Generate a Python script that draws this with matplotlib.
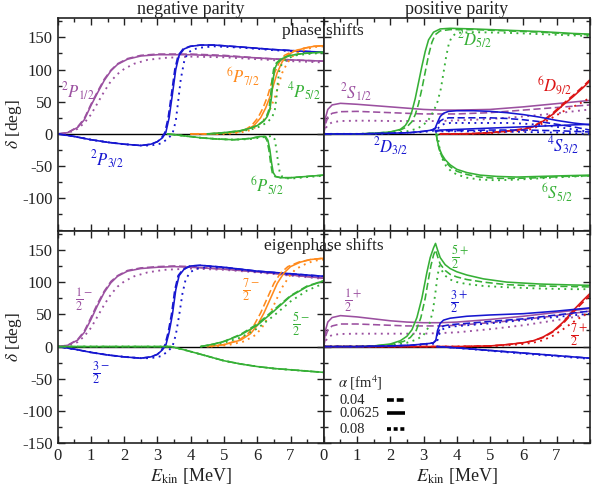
import matplotlib
matplotlib.use("Agg")
import matplotlib.pyplot as plt
from matplotlib.ticker import MultipleLocator

plt.rcParams['font.family'] = 'serif'
plt.rcParams['font.serif'] = ['Liberation Serif', 'DejaVu Serif']
plt.rcParams['mathtext.fontset'] = 'stix'
plt.rcParams['axes.unicode_minus'] = False

PURPLE = '#9b50a0'
BLUE = '#1616d0'
ORANGE = '#ff8a1c'
GREEN = '#36b036'
RED = '#dc1414'

# ---------------- phase shifts, negative parity ----------------
p12_E = [0, 0.3, 0.6, 0.8, 1.0, 1.2, 1.4, 1.6, 1.8, 2.1, 2.5, 3.0, 4.0, 5.0, 6.0, 7.0, 8.0]
p12_solid = [0, 2, 10, 22, 44, 64, 83, 98, 108, 116, 121, 123, 123, 121, 118, 115, 113]
p12_dash = [0, 2, 11, 24, 46, 66, 85, 99, 109, 117, 122, 124, 124, 122, 118, 115, 113]
p12_dot_E = [0, 0.3, 0.6, 0.8, 1.0, 1.2, 1.4, 1.6, 1.8, 2.0, 2.3, 2.7, 3.2, 4.0, 5.0, 6.0, 7.0, 8.0]
p12_dot = [0, 1, 8, 17, 30, 48, 66, 82, 93, 101, 109, 115, 118, 120, 119, 116, 113, 111]

p32_E = [0, 0.5, 1.0, 1.5, 2.0, 2.5, 2.8, 3.0, 3.15, 3.25, 3.35, 3.45, 3.55, 3.65, 3.8, 4.0, 4.3, 4.7, 5.5, 6.5, 7.5, 8.0]
p32_dash_E = [0, 0.5, 1.0, 1.5, 2.0, 2.5, 2.8, 3.0, 3.12, 3.22, 3.32, 3.42, 3.52, 3.62, 3.77, 3.97, 4.3, 4.7, 5.5, 6.5, 7.5, 8.0]
p32_solid = [0, -4, -9, -13, -16, -18, -16, -12, -6, 2, 25, 62, 100, 122, 132, 136, 138, 138, 135, 131, 128, 127]
p32_dot_E = [0, 0.5, 1.0, 1.5, 2.0, 2.5, 2.8, 3.1, 3.3, 3.45, 3.55, 3.62, 3.7, 3.8, 3.9, 4.05, 4.3, 4.7, 5.5, 6.5, 7.5, 8.0]
p32_dot = [0, -4, -9, -13, -16, -18, -18, -15, -8, 0, 20, 50, 85, 112, 125, 131, 134, 136, 134, 130, 127, 126]

p72_E = [4.0, 4.5, 5.0, 5.4, 5.7, 5.9, 6.1, 6.25, 6.4, 6.5, 6.6, 6.75, 6.9, 7.1, 7.4, 7.7, 8.0]
p72_dash_E = [4.0, 4.5, 5.0, 5.4, 5.65, 5.83, 6.02, 6.17, 6.32, 6.42, 6.52, 6.67, 6.82, 7.05, 7.4, 7.7, 8.0]
p72_solid = [0, 0, 1, 3, 7, 13, 25, 40, 60, 78, 95, 112, 122, 128, 133, 136, 137]
p72_dot_E = [4.0, 4.5, 5.0, 5.5, 5.8, 6.0, 6.25, 6.4, 6.55, 6.65, 6.75, 6.9, 7.05, 7.25, 7.5, 7.75, 8.0]
p72_dot = [0, 0, 0, 2, 6, 12, 25, 40, 60, 78, 95, 110, 120, 127, 132, 135, 136]

p52a_E = [4.5, 5.0, 5.5, 5.8, 6.0, 6.2, 6.3, 6.38, 6.43, 6.47, 6.52, 6.6, 6.75, 7.0, 7.4, 8.0]
p52a_dash_E = [4.5, 5.0, 5.5, 5.8, 6.0, 6.18, 6.28, 6.35, 6.4, 6.44, 6.49, 6.57, 6.72, 6.97, 7.4, 8.0]
p52a_solid = [0, 2, 5, 9, 13, 20, 27, 38, 58, 82, 100, 110, 117, 122, 125, 127]
p52a_dot_E = [4.5, 5.0, 5.5, 5.9, 6.1, 6.3, 6.45, 6.53, 6.58, 6.62, 6.67, 6.75, 6.9, 7.15, 7.5, 8.0]
p52a_dot = [0, 1, 4, 8, 12, 18, 26, 38, 58, 82, 100, 110, 117, 122, 124, 126]

p52b_E = [3.3, 3.8, 4.3, 4.8, 5.3, 5.8, 6.1, 6.25, 6.32, 6.38, 6.43, 6.48, 6.55, 6.7, 7.0, 7.5, 8.0]
p52b_dash_E = [3.3, 3.8, 4.3, 4.8, 5.3, 5.8, 6.07, 6.22, 6.29, 6.35, 6.4, 6.45, 6.52, 6.7, 7.0, 7.5, 8.0]
p52b_solid = [0, -3, -6, -8, -9, -7, -4, -4, -10, -25, -45, -60, -66, -68, -68, -66, -64]
p52b_dot_E = [3.3, 3.8, 4.3, 4.8, 5.3, 5.8, 6.2, 6.45, 6.52, 6.57, 6.62, 6.67, 6.74, 6.9, 7.1, 7.5, 8.0]
p52b_dot = [0, -3, -6, -8, -9, -8, -5, -3, -8, -22, -42, -58, -66, -69, -69, -67, -65]

# ---------------- phase shifts, positive parity ----------------
s12_E = [0, 0.05, 0.12, 0.25, 0.5, 1.0, 1.5, 2.0, 2.5, 3.0, 3.5, 4.0, 5.0, 6.0, 7.0, 8.0]
s12_solid = [0, 25, 38, 45, 47.5, 46, 44, 42, 40, 38, 37, 37, 38, 42, 47, 52]
s12_dash = [0, 15, 26, 32, 34.5, 35, 34, 33, 32, 31, 31, 31, 33, 37, 41, 45]
s12_dot = [0, 8, 14, 18, 20, 20.5, 20.5, 20, 20, 20, 20, 21, 23, 27, 32, 38]

d52_E = [0, 1.0, 1.5, 2.0, 2.3, 2.45, 2.55, 2.65, 2.75, 2.85, 2.95, 3.05, 3.15, 3.3, 3.5, 3.8, 4.5, 5.5, 6.5, 7.5, 8.0]
d52_solid = [0, 0, 1, 3, 7, 13, 21, 35, 55, 80, 105, 128, 146, 158, 163, 164, 163, 161, 159, 156, 155]
d52_dash_E = [0, 1.0, 1.5, 2.0, 2.3, 2.5, 2.65, 2.75, 2.85, 2.95, 3.05, 3.15, 3.25, 3.35, 3.5, 3.8, 4.5, 5.5, 6.5, 7.5, 8.0]
d52_dash = [0, 0, 1, 3, 6, 11, 19, 30, 47, 70, 96, 122, 142, 154, 160, 162, 162, 160, 158, 155, 154]
d52_dot_E = [0, 1.0, 1.5, 2.0, 2.5, 2.8, 3.0, 3.15, 3.3, 3.42, 3.52, 3.6, 3.68, 3.76, 3.85, 4.0, 4.5, 5.5, 6.5, 7.5, 8.0]
d52_dot = [0, 0, 0, 1, 4, 8, 14, 22, 35, 50, 70, 95, 120, 140, 151, 157, 158, 157, 155, 153, 152]

d92_E = [3.5, 4.0, 4.5, 5.0, 5.5, 6.0, 6.3, 6.6, 6.9, 7.2, 7.5, 7.8, 8.0]
d92_solid = [0, 0, 0.5, 2, 4, 7, 11, 20, 31, 45, 58, 72, 82]
d92_dash = [0, 0, 0.5, 2, 4.5, 8, 12, 21, 33, 47, 60, 74, 84]
d92_dot = [0, 0, 0.3, 1, 3, 5, 8, 17, 26, 35, 42, 50, 56]

d32_E = [0, 1.0, 2.0, 2.6, 3.0, 3.25, 3.35, 3.42, 3.5, 3.6, 3.75, 4.0, 4.5, 5.0, 5.5, 6.0, 6.5, 7.0, 7.5, 8.0]
d32_solid = [0, 0, 1, 2, 4, 6, 9, 18, 27, 32, 35, 36, 36, 35, 33, 30, 26, 21, 17, 14]
d32_dash = [0, 0, 1, 2, 4, 6, 8, 14, 20, 23, 25, 25, 25, 25, 24, 22, 19, 15, 11, 6]
d32_dot_E = [0, 1.0, 2.0, 2.6, 3.0, 3.3, 3.4, 3.48, 3.55, 3.65, 3.8, 4.0, 4.5, 5.0, 5.5, 6.0, 6.5, 7.0, 7.5, 8.0]
d32_dot = [0, 0, 1, 2, 3, 5, 7, 11, 14, 16, 17, 17, 17, 17, 17, 16, 14, 11, 7, 3]

s32_E = [3.35, 3.5, 4.0, 5.0, 6.0, 7.0, 8.0]
s32_solid = [5, 6, 7, 9, 11, 13, 15]
s32_dash = [4, 5, 5, 6, 6, 5, 3]
s32_dot = [3, 4, 4, 4, 3, 2, 0]

s52_E = [3.38, 3.42, 3.47, 3.55, 3.65, 3.8, 4.0, 4.3, 4.7, 5.2, 5.8, 6.5, 7.2, 8.0]
s52_solid = [0, -12, -22, -32, -40, -48, -55, -60, -64, -66, -67, -66, -65, -64]
s52_dash = [0, -13, -24, -35, -43, -51, -58, -63, -67, -69, -69, -68, -66, -65]
s52_dot_E = [3.42, 3.46, 3.5, 3.58, 3.68, 3.83, 4.0, 4.3, 4.7, 5.2, 5.8, 6.5, 7.2, 8.0]
s52_dot = [0, -15, -28, -40, -50, -58, -63, -68, -71, -72, -71, -69, -67, -65]

# ---------------- eigenphases, negative parity ----------------
e12m_E = [0, 0.3, 0.6, 0.8, 1.0, 1.2, 1.4, 1.6, 1.8, 2.1, 2.5, 3.0, 3.5, 4.0, 5.0, 6.0, 7.0, 8.0]
e12m_solid = [0, 2, 10, 22, 42, 64, 84, 99, 109, 117, 121, 123, 124, 123, 120, 116, 111, 106]
e12m_dash = [0, 2, 11, 24, 45, 67, 86, 101, 110, 118, 122, 124, 125, 124, 120, 116, 111, 106]
e12m_dot_E = [0, 0.3, 0.6, 0.8, 1.0, 1.2, 1.4, 1.6, 1.8, 2.0, 2.3, 2.7, 3.2, 4.0, 5.0, 6.0, 7.0, 8.0]
e12m_dot = [0, 1, 7, 16, 29, 47, 65, 81, 93, 101, 109, 115, 119, 121, 119, 115, 110, 105]

e32m_E = [0, 0.5, 1.0, 1.5, 2.0, 2.5, 2.8, 3.0, 3.15, 3.25, 3.35, 3.45, 3.55, 3.65, 3.8, 4.0, 4.3, 5.0, 6.0, 7.0, 8.0]
e32m_dash_E = [0, 0.5, 1.0, 1.5, 2.0, 2.5, 2.8, 3.0, 3.12, 3.22, 3.32, 3.42, 3.52, 3.62, 3.77, 3.97, 4.3, 5.0, 6.0, 7.0, 8.0]
e32m_solid = [0, -4, -9, -13, -16, -18, -16, -12, -5, 2, 22, 50, 88, 110, 120, 125, 126, 123, 117, 113, 109]
e32m_dot_E = [0, 0.5, 1.0, 1.5, 2.0, 2.5, 2.8, 3.1, 3.3, 3.45, 3.55, 3.65, 3.75, 3.85, 4.0, 4.2, 4.5, 5.0, 6.0, 7.0, 8.0]
e32m_dot = [0, -4, -9, -13, -16, -18, -18, -15, -8, 0, 18, 48, 82, 105, 116, 121, 123, 122, 116, 112, 108]

e72m_E = [4.5, 5.0, 5.5, 5.8, 6.0, 6.2, 6.4, 6.6, 6.8, 7.0, 7.3, 7.6, 8.0]
e72m_dash_E = [4.5, 5.0, 5.45, 5.72, 5.9, 6.1, 6.3, 6.5, 6.7, 6.92, 7.25, 7.6, 8.0]
e72m_solid = [0, 3, 10, 20, 33, 52, 75, 98, 114, 124, 131, 135, 137]
e72m_dot_E = [4.6, 5.1, 5.6, 5.95, 6.15, 6.35, 6.55, 6.75, 6.95, 7.15, 7.45, 7.7, 8.0]
e72m_dot = [0, 2, 8, 18, 30, 48, 70, 92, 108, 120, 128, 133, 135]

e52m_E = [4.3, 4.7, 5.0, 5.5, 6.0, 6.5, 7.0, 7.5, 8.0]
e52m_solid = [0, 4, 8, 18, 33, 55, 78, 93, 102]
e52m_dash = [0, 4, 8, 19, 35, 57, 79, 94, 102]
e52m_dot = [0, 3, 6, 14, 28, 48, 70, 87, 98]

e52m2_E = [0, 1, 2, 3, 3.4, 3.8, 4.3, 5.0, 5.5, 6.0, 6.5, 7.0, 7.5, 8.0]
e52m2_solid = [0, 0, 0, 0, 0, -5, -12, -22, -27, -31, -34, -36, -38, -40]

# ---------------- eigenphases, positive parity ----------------
e12p_E = [0, 0.05, 0.12, 0.25, 0.5, 1.0, 1.5, 2.0, 2.5, 3.0, 3.5, 4.0, 5.0, 6.0, 7.0, 8.0]
e12p_solid = [0, 25, 38, 45, 48, 46, 43, 40, 38, 37, 37, 38, 42, 47, 53, 59]
e12p_dash = [0, 15, 26, 32, 35, 35, 34, 33, 32, 32, 32, 33, 37, 42, 48, 55]
e12p_dot = [0, 8, 14, 18, 19.5, 20, 20, 20, 20, 20, 21, 22, 27, 33, 41, 50]

e52p_E = [0, 1.0, 1.5, 2.0, 2.3, 2.5, 2.65, 2.8, 2.95, 3.1, 3.2, 3.3, 3.36, 3.42, 3.5, 3.65, 3.8, 4.0, 4.3, 4.8, 5.5, 6.5, 7.5, 8.0]
e52p_solid = [0, 0, 1, 4, 9, 16, 26, 45, 75, 115, 138, 153, 160, 150, 138, 127, 121, 116, 111, 105, 100, 97, 95.5, 95]
e52p_dash_E = [0, 1.0, 1.5, 2.0, 2.4, 2.6, 2.78, 2.92, 3.05, 3.15, 3.22, 3.3, 3.36, 3.42, 3.5, 3.65, 3.8, 4.0, 4.3, 4.8, 5.5, 6.5, 7.5, 8.0]
e52p_dash = [0, 0, 1, 3, 8, 14, 25, 45, 75, 105, 125, 142, 150, 140, 128, 118, 112, 108, 104, 100, 96, 94, 93, 92.5]
e52p_dot_E = [0, 1.0, 1.5, 2.0, 2.5, 2.8, 3.0, 3.15, 3.28, 3.36, 3.42, 3.48, 3.55, 3.65, 3.8, 4.0, 4.3, 4.8, 5.5, 6.5, 7.5, 8.0]
e52p_dot = [0, 0, 0, 2, 6, 11, 18, 30, 55, 85, 110, 125, 118, 110, 104, 100, 97, 94, 92, 90, 89, 89]

e32p_E = [0, 1.0, 2.0, 2.6, 3.0, 3.2, 3.3, 3.37, 3.42, 3.5, 3.6, 3.8, 4.3, 5.0, 6.0, 7.0, 8.0]
e32p_solid = [0, 0, 1, 2, 4, 5, 6, 10, 25, 36, 41, 44, 47, 49, 51, 55, 60]
e32p_dash = [0, 0, 1, 2, 4, 5, 6, 9, 20, 28, 32, 34, 36, 39, 43, 49, 55]
e32p_dot_E = [0, 1.0, 2.0, 2.6, 3.0, 3.25, 3.35, 3.42, 3.48, 3.55, 3.65, 3.85, 4.3, 5.0, 6.0, 7.0, 8.0]
e32p_dot = [0, 0, 1, 2, 3, 4, 5, 10, 20, 26, 29, 31, 33, 36, 41, 46, 51]

e32p2_E = [3.4, 4.0, 5.0, 6.0, 7.0, 8.0]
e32p2_solid = [0, -2, -6, -10, -14, -18]
e32p2_dot = [0, -2, -6.5, -11, -15, -19]

e72p_E = [0, 1.0, 2.0, 3.0, 3.5, 4.0, 4.5, 5.0, 5.5, 6.0, 6.3, 6.6, 6.9, 7.2, 7.5, 7.8, 8.0]
e72p_solid = [0, 0, 0, 0, 0, 0, 0.5, 1, 3, 6, 9, 15, 24, 38, 56, 72, 82]
e72p_dash = [0, 0, 0, 0, 0, 0, 0.5, 1, 3, 6, 9, 14, 23, 36, 53, 69, 79]
e72p_dot = [0, 0, 0, 0, 0, 0, 0.3, 0.8, 2, 4, 6, 10, 17, 27, 38, 48, 54]

alpha_labels = ['0.04', '0.0625', '0.08']

DASH = (0, (4.5, 2.2))
DOT = (0, (1, 2.4))
LW = 1.15


def triple(ax, color, E_solid, solid, E_dash=None, dash=None, E_dot=None, dot=None):
    """ Draw the three alpha variants of one channel. """
    if E_dash is None:
        E_dash = E_solid
    if E_dot is None:
        E_dot = E_solid
    if dash is not None:
        ax.plot(E_dash, dash, color=color, lw=LW, ls=DASH)
    ax.plot(E_solid, solid, color=color, lw=LW, ls='-')
    if dot is not None:
        ax.plot(E_dot, dot, color=color, lw=LW + 0.2, ls=DOT)


fig = plt.figure(figsize=(5.97, 4.93), dpi=100)
x0, xm, x1 = 57.7 / 597, 323.8 / 597, 589.8 / 597
ybot, ymid, ytop = 1 - 443.3 / 493, 1 - 230.5 / 493, 1 - 18 / 493
ax_tl = fig.add_axes([x0, ymid, xm - x0, ytop - ymid])
ax_tr = fig.add_axes([xm, ymid, x1 - xm, ytop - ymid])
ax_bl = fig.add_axes([x0, ybot, xm - x0, ymid - ybot])
ax_br = fig.add_axes([xm, ybot, x1 - xm, ymid - ybot])

for ax in [ax_tl, ax_tr, ax_bl, ax_br]:
    ax.set_xlim(0, 8)
    ax.set_ylim(-150, 180)
    ax.axhline(0, color='black', lw=1.0, zorder=1)
    ax.xaxis.set_major_locator(MultipleLocator(1))
    ax.xaxis.set_minor_locator(MultipleLocator(0.5))
    ax.yaxis.set_major_locator(MultipleLocator(50))
    ax.yaxis.set_minor_locator(MultipleLocator(25))
    ax.tick_params(which='both', direction='in', top=True, right=True, width=1.0,
                   labelsize=12, colors='#222222', labelcolor='#222222')
    ax.tick_params(which='major', length=5)
    ax.tick_params(which='minor', length=2.8)
    for s in ax.spines.values():
        s.set_linewidth(1.2)
        s.set_color('#222222')

ax_tl.set_xticklabels([])
ax_tr.set_xticklabels([])
ax_tr.set_yticklabels([])
ax_br.set_yticklabels([])
ax_tl.set_yticks([-100, -50, 0, 50, 100, 150])
ax_tl.yaxis.set_minor_locator(MultipleLocator(25))
ax_bl.set_xticks(range(0, 8))
ax_br.set_xticks(range(0, 8))
ax_bl.xaxis.set_minor_locator(MultipleLocator(0.5))
ax_br.xaxis.set_minor_locator(MultipleLocator(0.5))

for ax in [ax_tl, ax_bl]:
    ax.set_ylabel(r'$\delta$ [deg]', fontsize=12.5, color='#222222')
    ax.yaxis.set_label_coords(-0.128, 0.5)
for ax in [ax_bl, ax_br]:
    ax.set_xlabel(r'$E_{\rm kin}$ [MeV]', fontsize=13, color='#222222', labelpad=1)

# top left
triple(ax_tl, PURPLE, p12_E, p12_solid, None, p12_dash, p12_dot_E, p12_dot)
triple(ax_tl, BLUE, p32_E, p32_solid, p32_dash_E, p32_solid, p32_dot_E, p32_dot)
triple(ax_tl, ORANGE, p72_E, p72_solid, p72_dash_E, p72_solid, p72_dot_E, p72_dot)
triple(ax_tl, GREEN, p52a_E, p52a_solid, p52a_dash_E, p52a_solid, p52a_dot_E, p52a_dot)
triple(ax_tl, GREEN, p52b_E, p52b_solid, p52b_dash_E, p52b_solid, p52b_dot_E, p52b_dot)

# top right
triple(ax_tr, PURPLE, s12_E, s12_solid, None, s12_dash, None, s12_dot)
triple(ax_tr, GREEN, d52_E, d52_solid, d52_dash_E, d52_dash, d52_dot_E, d52_dot)
triple(ax_tr, RED, d92_E, d92_solid, None, d92_dash, None, d92_dot)
triple(ax_tr, BLUE, d32_E, d32_solid, None, d32_dash, d32_dot_E, d32_dot)
triple(ax_tr, BLUE, s32_E, s32_solid, None, s32_dash, None, s32_dot)
triple(ax_tr, GREEN, s52_E, s52_solid, None, s52_dash, s52_dot_E, s52_dot)

# bottom left
triple(ax_bl, PURPLE, e12m_E, e12m_solid, None, e12m_dash, e12m_dot_E, e12m_dot)
triple(ax_bl, BLUE, e32m_E, e32m_solid, e32m_dash_E, e32m_solid, e32m_dot_E, e32m_dot)
triple(ax_bl, ORANGE, e72m_E, e72m_solid, e72m_dash_E, e72m_solid, e72m_dot_E, e72m_dot)
triple(ax_bl, GREEN, e52m_E, e52m_solid, None, e52m_dash, None, e52m_dot)
triple(ax_bl, GREEN, e52m2_E, e52m2_solid, None, e52m2_solid, None, e52m2_solid)

# bottom right
triple(ax_br, PURPLE, e12p_E, e12p_solid, None, e12p_dash, None, e12p_dot)
triple(ax_br, GREEN, e52p_E, e52p_solid, e52p_dash_E, e52p_dash, e52p_dot_E, e52p_dot)
triple(ax_br, RED, e72p_E, e72p_solid, None, e72p_dash, None, e72p_dot)
triple(ax_br, BLUE, e32p_E, e32p_solid, None, e32p_dash, e32p_dot_E, e32p_dot)
triple(ax_br, BLUE, e32p2_E, e32p2_solid, None, e32p2_solid, None, e32p2_dot)

# channel labels
LFS = 12
ax_tl.text(0.61, 65, r'${}^{2}P_{1/2}$', color=PURPLE, fontsize=LFS, ha='center', va='center')
ax_tl.text(1.48, -40, r'${}^{2}P_{3/2}$', color=BLUE, fontsize=LFS, ha='center', va='center')
ax_tl.text(5.57, 88, r'${}^{6}P_{7/2}$', color=ORANGE, fontsize=LFS, ha='center', va='center')
ax_tl.text(7.4, 65, r'${}^{4}P_{5/2}$', color=GREEN, fontsize=LFS, ha='center', va='center')
ax_tl.text(6.29, -80, r'${}^{6}P_{5/2}$', color=GREEN, fontsize=LFS, ha='center', va='center')

ax_tr.text(0.98, 64, r'${}^{2}S_{1/2}$', color=PURPLE, fontsize=LFS, ha='center', va='center')
ax_tr.text(4.53, 146, r'${}^{2}D_{5/2}$', color=GREEN, fontsize=LFS, ha='center', va='center')
ax_tr.text(6.94, 76, r'${}^{6}D_{9/2}$', color=RED, fontsize=LFS, ha='center', va='center')
ax_tr.text(2.0, -20, r'${}^{2}D_{3/2}$', color=BLUE, fontsize=LFS, ha='center', va='center')
ax_tr.text(7.2, -19, r'${}^{4}S_{3/2}$', color=BLUE, fontsize=LFS, ha='center', va='center')
ax_tr.text(7.02, -91, r'${}^{6}S_{5/2}$', color=GREEN, fontsize=LFS, ha='center', va='center')

FFS = 12.5
ax_bl.text(0.8, 73, r'$\frac{1}{2}^{-}$', color=PURPLE, fontsize=FFS, ha='center', va='center')
ax_bl.text(1.3, -42, r'$\frac{3}{2}^{-}$', color=BLUE, fontsize=FFS, ha='center', va='center')
ax_bl.text(5.82, 87, r'$\frac{7}{2}^{-}$', color=ORANGE, fontsize=FFS, ha='center', va='center')
ax_bl.text(7.32, 34, r'$\frac{5}{2}^{-}$', color=GREEN, fontsize=FFS, ha='center', va='center')

ax_br.text(0.87, 71, r'$\frac{1}{2}^{+}$', color=PURPLE, fontsize=FFS, ha='center', va='center')
ax_br.text(4.1, 138, r'$\frac{5}{2}^{+}$', color=GREEN, fontsize=FFS, ha='center', va='center')
ax_br.text(4.07, 68, r'$\frac{3}{2}^{+}$', color=BLUE, fontsize=FFS, ha='center', va='center')
ax_br.text(7.69, 18, r'$\frac{7}{2}^{+}$', color=RED, fontsize=FFS, ha='center', va='center')

# alpha key
ax_br.text(0.055, 0.283, r'$\alpha$ [fm$^{4}$]', transform=ax_br.transAxes, fontsize=10.5,
           color='#222222', va='center')
key_styles = [(0, (1.9, 0.8)), '-', (0, (1.1, 0.75))]
key_y = [0.203, 0.142, 0.065]
for lab, st, yy in zip(alpha_labels, key_styles, key_y):
    ax_br.text(0.06, yy, lab, transform=ax_br.transAxes, fontsize=10.5, color='#222222', va='center')
    ax_br.plot([0.238, 0.305], [yy, yy], transform=ax_br.transAxes, color='black', lw=2.6,
               ls=st, solid_capstyle='butt', dash_capstyle='butt')

fig.text(191 / 597, 1 - 9 / 493, 'negative parity', fontsize=13, ha='center', va='center', color='#222222')
fig.text(457 / 597, 1 - 9 / 493, 'positive parity', fontsize=13, ha='center', va='center', color='#222222')
fig.text(323 / 597, 1 - 31 / 493, 'phase shifts', fontsize=12.5, ha='center', va='center', color='#222222')
fig.text(324 / 597, 1 - 246 / 493, 'eigenphase shifts', fontsize=12.5, ha='center', va='center', color='#222222')

fig.savefig('out.png', dpi=100)
